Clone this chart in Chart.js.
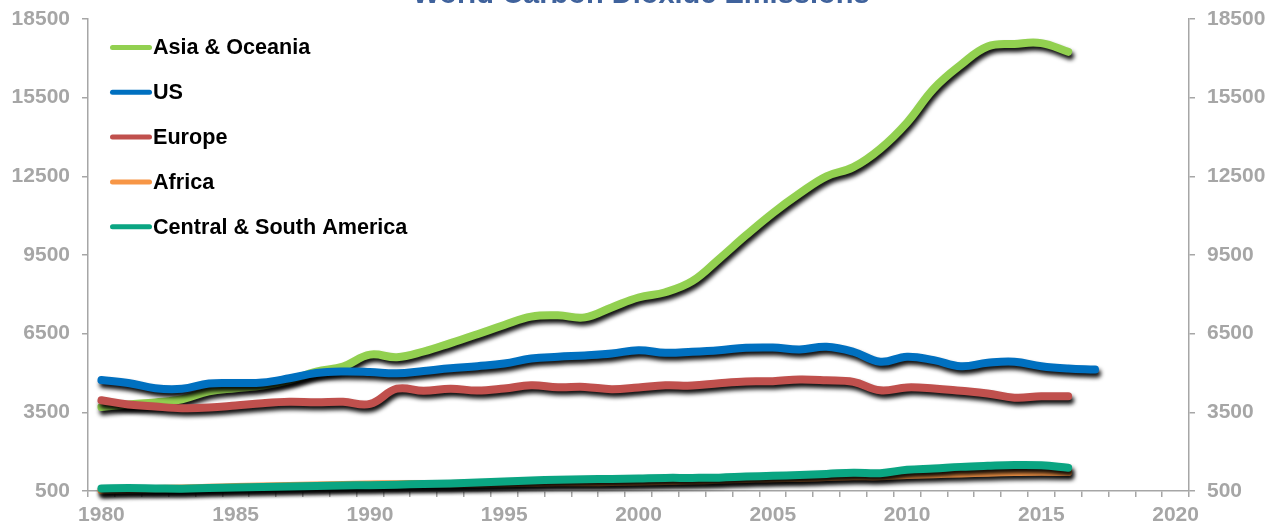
<!DOCTYPE html>
<html>
<head>
<meta charset="utf-8">
<title>World Carbon Dioxide Emissions</title>
<script src="https://cdn.jsdelivr.net/npm/chart.js@4.4.1/dist/chart.umd.min.js"></script>
<style>
	html, body { margin: 0; padding: 0; background: #fff; }
	#wrap { width: 1282px; height: 529px; }
</style>
</head>
<body>
<div id="wrap"><canvas id="co2Chart" width="1282" height="529"></canvas></div>
<script>
// values (million metric tons)

var years = [1980, 1981, 1982, 1983, 1984, 1985, 1986, 1987, 1988, 1989,
	1990, 1991, 1992, 1993, 1994, 1995, 1996, 1997, 1998, 1999,
	2000, 2001, 2002, 2003, 2004, 2005, 2006, 2007, 2008, 2009,
	2010, 2011, 2012, 2013, 2014, 2015, 2016, 2017];

var asiaOceania = [3700, 3800, 3880, 4000, 4300, 4420, 4520, 4730, 5050, 5250,
	5700, 5600, 5820, 6140, 6480, 6830, 7150, 7200, 7120, 7500,
	7880, 8080, 8500, 9350, 10250, 11100, 11850, 12500, 12850, 13550,
	14550, 15850, 16750, 17450, 17550, 17580, 17250];

var us = [4730, 4620, 4420, 4400, 4600, 4620, 4640, 4800, 5000, 5060,
	5040, 4990, 5080, 5180, 5260, 5360, 5550, 5620, 5670, 5740,
	5870, 5770, 5810, 5870, 5960, 5970, 5900, 6000, 5810, 5430,
	5620, 5490, 5260, 5390, 5430, 5260, 5170, 5130];

var europe = [3960, 3800, 3720, 3660, 3680, 3760, 3850, 3900, 3880, 3900,
	3820, 4400, 4320, 4400, 4330, 4410, 4530, 4460, 4470, 4380,
	4450, 4530, 4520, 4610, 4680, 4690, 4750, 4720, 4660, 4340,
	4450, 4410, 4320, 4220, 4060, 4110, 4110];

var africa = [530, 560, 580, 600, 620, 650, 670, 690, 710, 730,
	750, 760, 770, 770, 780, 800, 810, 830, 830, 840,
	860, 880, 900, 930, 960, 990, 1000, 1030, 1060, 1060,
	1110, 1140, 1170, 1200, 1220, 1230, 1220];

var centralSouthAmerica = [600, 610, 600, 590, 610, 630, 650, 670, 690, 710,
	720, 740, 770, 790, 820, 860, 900, 930, 950, 960,
	980, 1000, 1000, 1010, 1050, 1080, 1110, 1150, 1200, 1180,
	1310, 1360, 1420, 1460, 1490, 1480, 1390];

var seriesNames = ['Asia & Oceania', 'US', 'Europe', 'Africa', 'Central & South America'];
var seriesColors = ['#92d050', '#0070c0', '#c0504d', '#f79646', '#0aa582'];

var yTicks = [500, 3500, 6500, 9500, 12500, 15500, 18500];
var xLabels = [1980, 1985, 1990, 1995, 2000, 2005, 2010, 2015, 2020];

var chartTitle = 'World Carbon Dioxide Emissions';

var axisGray = '#a6a6a6';
var tickFont = { family: 'Liberation Sans, Arial, sans-serif', size: 21, weight: 'bold' };

function toPoints(values) {
	return values.map(function (v, i) { return { x: years[i], y: v }; });
}

// year tick marks sit between the years, labels on every fifth year
var xTicks = xLabels.slice();
for (var t = 1979.5; t <= 2020.5; t += 1) xTicks.push(t);
xTicks.sort(function (a, b) { return a - b; });

var allSeries = [asiaOceania, us, europe, africa, centralSouthAmerica];

var datasets = allSeries.map(function (values, i) {
	return {
		label: seriesNames[i],
		data: toPoints(values),
		borderColor: seriesColors[i],
		backgroundColor: seriesColors[i],
		borderWidth: 8,
		borderCapStyle: 'round',
		borderJoinStyle: 'round',
		pointRadius: 0,
		tension: 0.4,
		fill: false,
		clip: false,
		order: allSeries.length - i
	};
});

// soft black drop shadow under the lines
var shadowPlugin = {
	id: 'lineShadow',
	beforeDatasetsDraw: function (chart) {
		var c = chart.ctx;
		c.save();
		c.shadowColor = 'rgba(0, 0, 0, 0.95)';
		c.shadowBlur = 4;
		c.shadowOffsetX = 2;
		c.shadowOffsetY = 4;
	},
	afterDatasetsDraw: function (chart) {
		chart.ctx.restore();
	}
};

// vertical legend inside the plot and the clipped title
var overlayPlugin = {
	id: 'overlay',
	afterDraw: function (chart) {
		var c = chart.ctx;
		c.save();
		c.font = 'bold 29px "Liberation Sans", Arial, sans-serif';
		c.fillStyle = '#3f629c';
		c.textAlign = 'center';
		c.textBaseline = 'alphabetic';
		c.fillText(chartTitle, 641, 2.5);

		c.font = 'bold 21.6px "Liberation Sans", Arial, sans-serif';
		c.textAlign = 'left';
		c.textBaseline = 'middle';
		chart.data.datasets.forEach(function (ds, i) {
			var y = 47.5 + i * 44.8;
			c.beginPath();
			c.lineWidth = 5;
			c.lineCap = 'round';
			c.strokeStyle = ds.borderColor;
			c.moveTo(112.5, y);
			c.lineTo(149.5, y);
			c.stroke();
			c.fillStyle = '#000';
			c.fillText(ds.label, 153, y + 1);
		});
		c.restore();
	}
};

function yAxis(position, width) {
	return {
		type: 'linear',
		position: position,
		min: 500,
		max: 18500,
		afterBuildTicks: function (scale) {
			scale.ticks = yTicks.map(function (v) { return { value: v }; });
		},
		afterFit: function (scale) {
			scale.width = width;
			scale.paddingTop = 0;
			scale.paddingBottom = 0;
		},
		ticks: {
			color: axisGray,
			font: tickFont,
			padding: 12,
			callback: function (v) { return String(v); }
		},
		grid: {
			drawOnChartArea: false,
			tickLength: 6,
			tickColor: axisGray,
			lineWidth: 1.5
		},
		border: { color: axisGray, width: 1.5 }
	};
}

new Chart(document.getElementById('co2Chart'), {
	type: 'line',
	data: { datasets: datasets },
	plugins: [shadowPlugin, overlayPlugin],
	options: {
		responsive: false,
		animation: false,
		devicePixelRatio: 1,
		layout: { padding: { top: 19, left: 0, right: 0, bottom: 0 } },
		plugins: {
			legend: { display: false },
			title: { display: false },
			tooltip: { enabled: false }
		},
		scales: {
			x: {
				type: 'linear',
				min: 1979.5,
				max: 2020.5,
				afterBuildTicks: function (scale) {
					scale.ticks = xTicks.map(function (v) { return { value: v }; });
				},
				afterFit: function (scale) {
					scale.height = 38;
					scale.paddingLeft = 0;
					scale.paddingRight = 0;
				},
				ticks: {
					color: axisGray,
					font: tickFont,
					autoSkip: false,
					maxRotation: 0,
					padding: 6,
					callback: function (v) {
						return xLabels.indexOf(v) >= 0 ? String(v) : '';
					}
				},
				grid: {
					drawOnChartArea: false,
					tickLength: 6,
					lineWidth: 1.5,
					tickColor: function (ctx) {
						return (ctx.tick && Number.isInteger(ctx.tick.value)) ? 'rgba(0,0,0,0)' : axisGray;
					}
				},
				border: { color: axisGray, width: 1.5 }
			},
			y: yAxis('left', 88),
			y2: yAxis('right', 93)
		}
	}
});
</script>
</body>
</html>
